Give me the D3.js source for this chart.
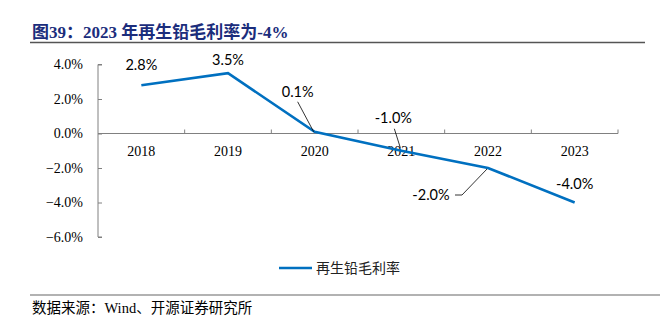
<!DOCTYPE html>
<html><head><meta charset="utf-8">
<script src="https://cdn.jsdelivr.net/npm/d3@7"></script>
<style>body{margin:0;background:#fff;}svg{display:block;}</style>
</head><body>
<svg id="c" width="662" height="325"></svg>
<script>
const categories = ["2018","2019","2020","2021","2022","2023"];
const values = [2.8, 3.5, 0.1, -1.0, -2.0, -4.0];
const valueLabels = ["2.8%","3.5%","0.1%","-1.0%","-2.0%","-4.0%"];
const yTicks = [4, 2, 0, -2, -4, -6];
const seriesName = "再生铅毛利率";
const titleText = "图39：2023 年再生铅毛利率为-4%";
const sourceText = "数据来源：Wind、开源证券研究所";

(function () {
const svg = d3.select("#c");
const pL = 98, pR = 618, pT = 64.5, pB = 237;
const x = d3.scaleBand().domain(categories).range([pL, pR]);
const y = d3.scaleLinear().domain([-6, 4]).range([pB, pT]);
const blue = "#0070C0", axisCol = "#808080";
const serif = "'Liberation Serif','Noto Sans CJK SC',serif";
const cjk = "'Noto Sans CJK SC',sans-serif";

// title
svg.append("text").attr("x", 32).attr("y", 38).attr("fill", "#1b2d7c")
  .attr("font-family", serif).attr("font-weight", "bold")
  .attr("font-size", 17).text(titleText);
svg.append("line").attr("x1", 30).attr("x2", 645).attr("y1", 42.5).attr("y2", 42.5)
  .attr("stroke", "#555").attr("stroke-width", 1.5);

// y axis
const yAxis = d3.axisRight(y).tickValues(yTicks).tickSize(4).tickFormat("");
const gy = svg.append("g").attr("transform", `translate(${pL},0)`).call(yAxis);
gy.select(".domain").attr("stroke", axisCol).attr("d", `M4,${pT}H0V${pB}H4`);
gy.selectAll(".tick line").attr("stroke", axisCol);
svg.append("g").selectAll("text").data(yTicks).join("text")
  .attr("x", 83).attr("y", d => y(d)).attr("dy", "0.35em").attr("text-anchor", "end")
  .attr("font-family", serif).attr("font-size", 14).attr("fill", "#000")
  .text(d => d3.format(".1f")(d) + "%");

// x axis at zero
const bounds = d3.range(categories.length + 1).map(i => pL + i * x.step());
svg.append("line").attr("x1", pL).attr("x2", pR).attr("y1", y(0)).attr("y2", y(0))
  .attr("stroke", axisCol).attr("stroke-width", 1);
svg.append("g").selectAll("line").data(bounds.slice(1)).join("line")
  .attr("x1", d => d).attr("x2", d => d).attr("y1", y(0)).attr("y2", y(0) - 4)
  .attr("stroke", axisCol);
svg.append("g").selectAll("text").data(categories).join("text")
  .attr("x", d => x(d) + x.bandwidth() / 2).attr("y", y(0) + 22).attr("text-anchor", "middle")
  .attr("font-family", serif).attr("font-size", 14).attr("fill", "#000").text(d => d);

// line
const pts = categories.map((c, i) => [x(c) + x.bandwidth() / 2, y(values[i])]);
svg.append("path").attr("d", d3.line()(pts)).attr("fill", "none")
  .attr("stroke", blue).attr("stroke-width", 2.6).attr("stroke-linejoin", "miter");

// data labels
const offs = [[0,-20],[0,-13],[-17,-40],[-8,-33],[-57,27],[0,-19]];
svg.append("g").selectAll("text").data(valueLabels).join("text")
  .attr("x", (d, i) => pts[i][0] + offs[i][0]).attr("y", (d, i) => pts[i][1] + offs[i][1])
  .attr("dy", "0.35em").attr("text-anchor", "middle")
  .attr("font-family", "Lato,'Open Sans',sans-serif").attr("font-size", 14.5).attr("fill", "#000")
  .text(d => d);
// leader lines
const lead = svg.append("g").attr("fill", "none").attr("stroke", "#000").attr("stroke-width", 0.8);
lead.append("path").attr("d", `M${pts[2][0]-17},${pts[2][1]-30}L${pts[2][0]-1},${pts[2][1]}`);
lead.append("path").attr("d", `M${pts[3][0]-7},${pts[3][1]-22}L${pts[3][0]-1},${pts[3][1]-3}`);
lead.append("path").attr("d", `M${pts[4][0]-33},${pts[4][1]+27}H${pts[4][0]-26}L${pts[4][0]-1},${pts[4][1]+1}`);

// legend
svg.append("line").attr("x1", 279).attr("x2", 312).attr("y1", 268).attr("y2", 268)
  .attr("stroke", blue).attr("stroke-width", 2.6);
svg.append("text").attr("x", 316).attr("y", 268).attr("dy", "0.36em")
  .attr("font-family", cjk).attr("font-size", 14).attr("fill", "#222").text(seriesName);

// source
svg.append("line").attr("x1", 30).attr("x2", 660).attr("y1", 295).attr("y2", 295)
  .attr("stroke", "#666").attr("stroke-width", 1.2);
svg.append("text").attr("x", 32).attr("y", 313).attr("font-family", "'Liberation Serif','Noto Sans CJK SC',serif")
  .attr("font-size", 14.5).attr("fill", "#000").text(sourceText);
})();
</script>
</body></html>
